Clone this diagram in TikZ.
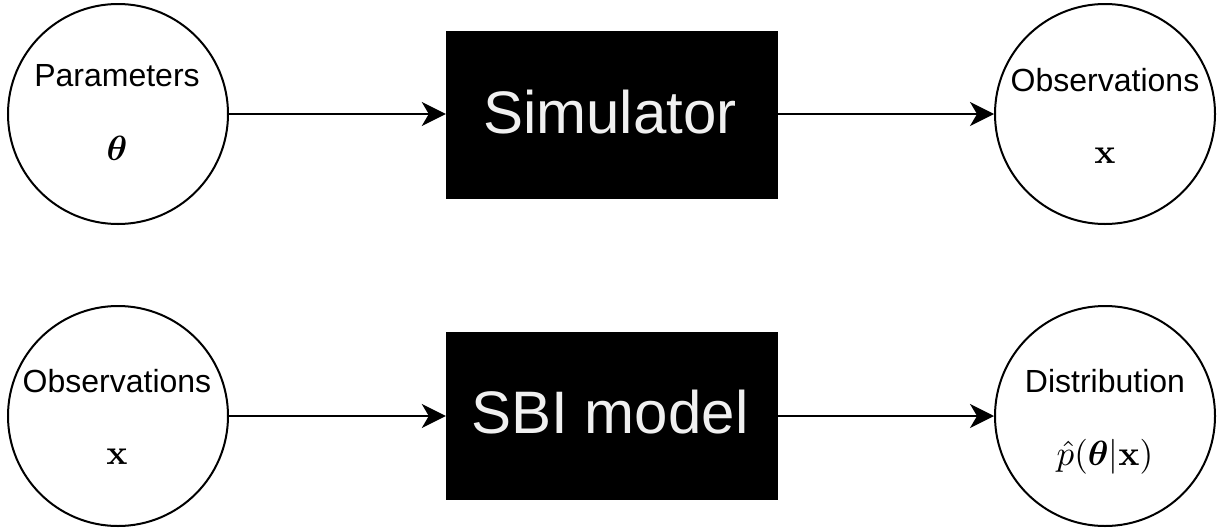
\documentclass[tikz,border=0pt]{standalone}
\usepackage{amsmath}
\usepackage{graphicx}
\usepackage[no-math]{fontspec}
\setmainfont{Liberation Sans}
\usetikzlibrary{arrows.meta}
\definecolor{boxtext}{HTML}{F0F0F0}
\newcommand{\bigmath}[1]{\scalebox{3.5}{\fontsize{10}{12}\selectfont$#1$}}
\begin{document}
\begin{tikzpicture}[x=1pt,y=-1pt,
  circ/.style={circle,draw=black,line width=2pt,minimum size=220pt,inner sep=0pt},
  blackbox/.style={rectangle,fill=black,draw=black,minimum width=331pt,minimum height=167pt,inner sep=0pt},
  boxlbl/.style={anchor=base,text=boxtext,font=\fontsize{60}{72}\selectfont},
  lbl/.style={anchor=base,font=\fontsize{32}{38}\selectfont},
  mth/.style={anchor=base,inner sep=0pt},
  conn/.style={line width=2pt,-{Stealth[length=24pt,width=24pt,inset=7pt]}}]
\useasboundingbox (0,0) rectangle (1217,528);
% top row
\node[circ] (par) at (118,114) {};
\node[lbl] (parT) at (117,86) {Parameters};
\node[mth] (parM) at (117,160) {\bigmath{\boldsymbol{\theta}}};
\node[blackbox] (sim) at (611.5,114.5) {};
\node[boxlbl] (simT) at (610,133) {Simulator};
\node[circ] (obs) at (1105,114) {};
\node[lbl] (obsT) at (1105,91) {Observations};
\node[mth] (obsM) at (1105,163) {\bigmath{\mathbf{x}}};
\draw[conn] (par.east) -- (sim.west |- par.east);
\draw[conn] (sim.east |- obs.west) -- (obs.west);
% bottom row
\node[circ] (obs2) at (118,416) {};
\node[lbl] (obs2T) at (117,392) {Observations};
\node[mth] (obs2M) at (117,464) {\bigmath{\mathbf{x}}};
\node[blackbox] (sbi) at (611.5,415.5) {};
\node[boxlbl] (sbiT) at (610,433) {SBI model};
\node[circ] (dist) at (1105,416) {};
\node[lbl] (distT) at (1105,392) {Distribution};
\node[mth] (distM) at (1105,465) {\bigmath{\hat{p}(\boldsymbol{\theta}|\mathbf{x})}};
\draw[conn] (obs2.east) -- (sbi.west |- obs2.east);
\draw[conn] (sbi.east |- dist.west) -- (dist.west);
\end{tikzpicture}
\end{document}
